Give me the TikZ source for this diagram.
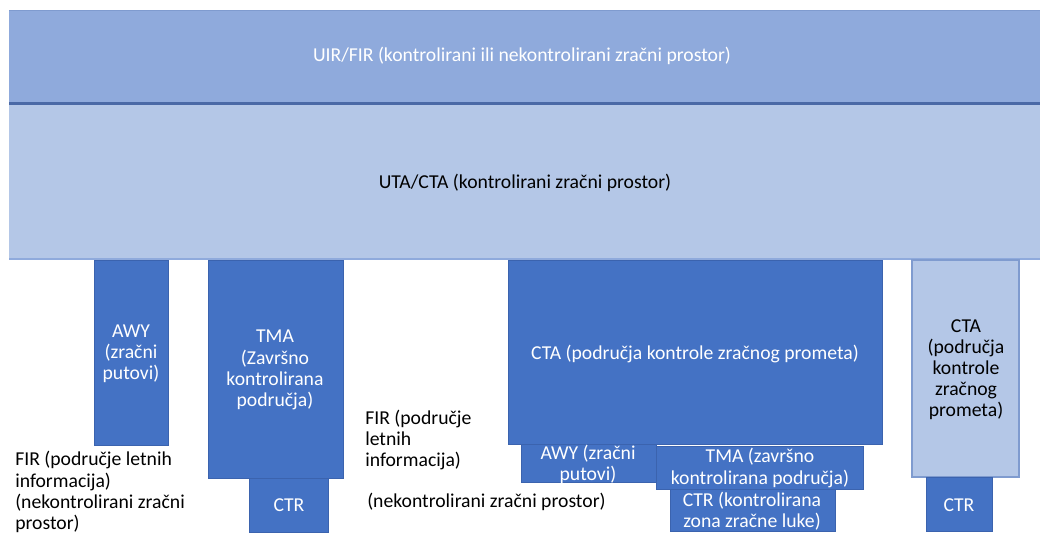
\documentclass[tikz,border=0pt]{standalone}
\usepackage{fontspec}
\setmainfont{Carlito}
\usepackage{xcolor}

\definecolor{bandtop}{HTML}{8FAADC}
\definecolor{bandmid}{HTML}{B4C7E7}
\definecolor{boxdark}{HTML}{4472C4}
\definecolor{edgedark}{HTML}{3B63AE}
\definecolor{edgeline}{HTML}{4A69A6}
\definecolor{edgelight}{HTML}{7F9BCF}

\tikzset{
  zone/.style={fill=boxdark, draw=edgedark, line width=0.4pt},
  zonelight/.style={fill=bandmid, draw=edgelight, line width=0.9pt},
  lbl/.style={align=center, inner sep=0pt, font=\fontsize{14}{15}\selectfont},
  lblw/.style={lbl, text=white},
  note/.style={lbl, align=left, anchor=west},
}

\begin{document}
\begin{tikzpicture}[x=0.025cm, y=-0.025cm]
\useasboundingbox (0,0) rectangle (1040,535);

% upper bands
\fill[bandtop] (9,10) rectangle (1040,104);
\draw[edgelight, line width=0.6pt] (9,10) -- (1040,10);
\fill[bandmid] (9,104) rectangle (1040,259);
\draw[edgeline, line width=1.8pt] (9,103.5) -- (1040,103.5);
\draw[bandtop, line width=1pt] (9,259) -- (1040,259);
\node[lblw] (uir) at (522,56) {UIR/FIR (kontrolirani ili nekontrolirani zračni prostor)};
\node[lbl] (uta) at (525,183) {UTA/CTA (kontrolirani zračni prostor)};

% lower zones
\draw[zone] (94,260) rectangle (168,445);
\draw[zone] (208,260) rectangle (343,478);
\draw[zone] (249,478) rectangle (328,532);
\draw[zone] (508,260) rectangle (882,444);
\draw[zone] (521,444) rectangle (656,482);
\draw[zone] (656,446) rectangle (863,489);
\draw[zone] (670,489) rectangle (835,531);
\draw[zonelight] (912,260) rectangle (1019,477);
\draw[zone] (926,477) rectangle (992,531);

\node[lblw] (awy) at (131,354) {AWY\\(zračni\\putovi)};
\node[lblw] (tma) at (275,370) {TMA\\(Završno\\kontrolirana\\područja)};
\node[lblw] (ctr) at (289,505) {CTR};
\node[lblw] (cta) at (695,354) {CTA (područja kontrole zračnog prometa)};
\node[lblw] (awy2) at (588,464) {AWY (zračni\\putovi)};
\node[lblw] (tma2) at (760,468) {TMA (završno\\kontrolirana područja)};
\node[lblw] (ctr2) at (752,511) {CTR (kontrolirana\\zona zračne luke)};
\node[lbl] (cta2) at (966,370) {CTA\\(područja\\kontrole\\zračnog\\prometa)};
\node[lblw] (ctr3) at (959,505) {CTR};

% free airspace notes
\node[note] (fir) at (15,492) {FIR (područje letnih\\informacija)\\(nekontrolirani zračni\\prostor)};
\node[note] (fir2) at (365,440) {FIR (područje\\letnih\\informacija)};
\node[note] (nek) at (367,502) {(nekontrolirani zračni prostor)};
\end{tikzpicture}
\end{document}
